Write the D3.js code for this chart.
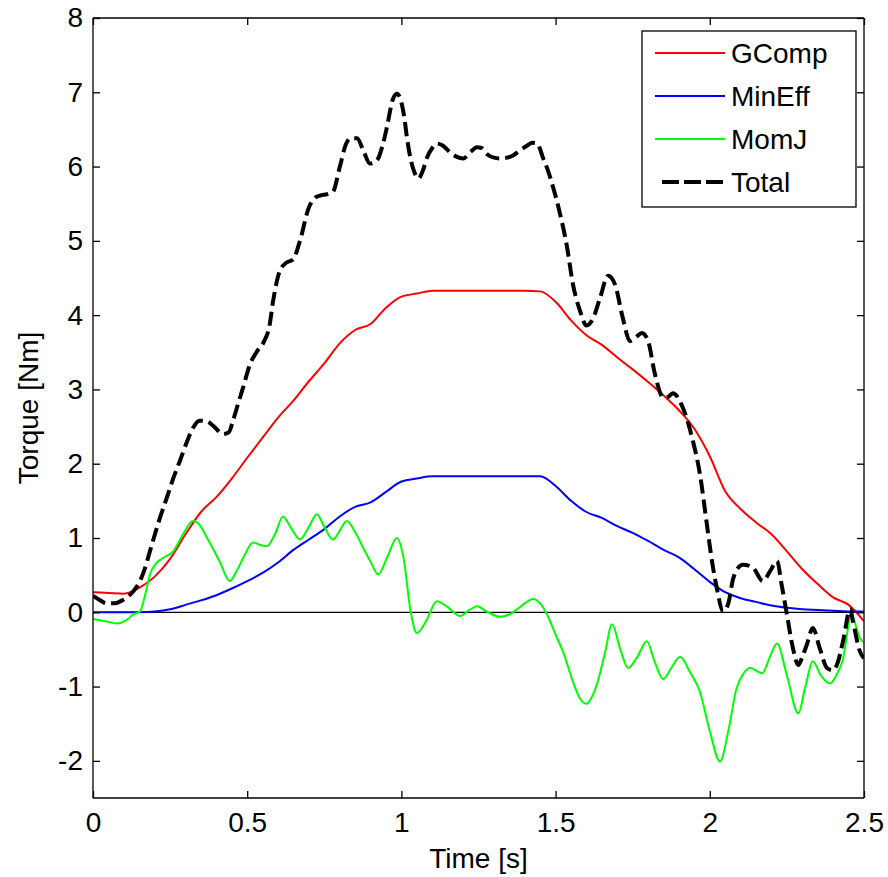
<!DOCTYPE html>
<html>
<head>
<meta charset="utf-8">
<script src="https://cdn.jsdelivr.net/npm/d3@7/dist/d3.min.js"></script>
<style>
  html, body { margin: 0; padding: 0; background: #fff; }
  text { font-family: "Liberation Sans", Arial, Helvetica, sans-serif; }
</style>
</head>
<body>
<svg id="chart" width="888" height="877"></svg>
<script>
// ---- Data ----
const seriesNames = ["GComp", "MinEff", "MomJ", "Total"];
const seriesColors = ["#ff0000", "#0000ff", "#00ff00", "#000000"];

const xTicks = [0, 0.5, 1, 1.5, 2, 2.5];
const xTickLabels = ["0", "0.5", "1", "1.5", "2", "2.5"];
const yTicks = [-2, -1, 0, 1, 2, 3, 4, 5, 6, 7, 8];
const yTickLabels = ["-2", "-1", "0", "1", "2", "3", "4", "5", "6", "7", "8"];

const tGComp = [0,0.05,0.1,0.15,0.2,0.25,0.3,0.35,0.4,0.45,0.5,0.55,0.6,0.65,0.7,0.75,0.8,0.85,0.9,0.95,1.0,1.05,1.1,1.2,1.3,1.4,1.45,1.5,1.55,1.6,1.65,1.7,1.75,1.8,1.85,1.9,1.95,2.0,2.05,2.1,2.15,2.2,2.25,2.3,2.35,2.4,2.45,2.5];
const gcomp = [0.27,0.26,0.25,0.33,0.48,0.72,1.05,1.35,1.55,1.80,2.08,2.35,2.62,2.85,3.11,3.35,3.62,3.80,3.88,4.10,4.25,4.29,4.33,4.33,4.33,4.33,4.32,4.18,3.93,3.73,3.60,3.43,3.27,3.10,2.92,2.72,2.47,2.10,1.63,1.39,1.21,1.05,0.82,0.58,0.38,0.20,0.10,-0.12];

const tMinEff = [0,0.05,0.1,0.15,0.2,0.25,0.3,0.35,0.4,0.45,0.5,0.55,0.6,0.65,0.7,0.75,0.8,0.85,0.9,0.95,1.0,1.05,1.1,1.2,1.3,1.4,1.45,1.5,1.55,1.6,1.65,1.7,1.75,1.8,1.85,1.9,1.95,2.0,2.05,2.1,2.15,2.2,2.25,2.3,2.35,2.4,2.45,2.5];
const mineff = [0,0,0,0,0.01,0.04,0.10,0.16,0.23,0.32,0.42,0.53,0.67,0.84,0.98,1.12,1.29,1.42,1.48,1.62,1.76,1.80,1.83,1.83,1.83,1.83,1.83,1.70,1.50,1.35,1.27,1.16,1.07,0.96,0.84,0.74,0.58,0.41,0.27,0.19,0.14,0.09,0.06,0.04,0.03,0.02,0.01,0.01];

const tMomJ = [0,0.04,0.078,0.11,0.13,0.152,0.17,0.185,0.205,0.227,0.26,0.292,0.324,0.345,0.37,0.41,0.444,0.465,0.487,0.519,0.54,0.564,0.59,0.616,0.64,0.671,0.70,0.726,0.75,0.778,0.80,0.823,0.85,0.877,0.9,0.925,0.955,0.985,1.007,1.03,1.05,1.08,1.115,1.15,1.19,1.22,1.245,1.28,1.32,1.35,1.375,1.40,1.427,1.45,1.47,1.50,1.524,1.556,1.579,1.6,1.62,1.634,1.66,1.683,1.71,1.735,1.765,1.796,1.82,1.849,1.875,1.904,1.935,1.968,2.0,2.033,2.06,2.087,2.11,2.13,2.17,2.195,2.218,2.25,2.287,2.31,2.334,2.36,2.39,2.41,2.43,2.46,2.475,2.487,2.5];
const momj = [-0.09,-0.12,-0.15,-0.10,-0.03,0.01,0.25,0.51,0.66,0.73,0.82,1.05,1.23,1.18,1.0,0.69,0.42,0.55,0.73,0.94,0.91,0.89,1.05,1.29,1.15,0.98,1.15,1.32,1.15,0.98,1.10,1.23,1.08,0.86,0.68,0.51,0.75,1.0,0.73,0.01,-0.28,-0.12,0.15,0.07,-0.05,0.03,0.08,0.0,-0.06,-0.03,0.04,0.12,0.18,0.12,-0.01,-0.3,-0.53,-0.93,-1.16,-1.23,-1.12,-0.97,-0.55,-0.16,-0.5,-0.75,-0.6,-0.39,-0.65,-0.9,-0.75,-0.6,-0.8,-1.07,-1.6,-2.01,-1.6,-1.02,-0.82,-0.75,-0.82,-0.6,-0.42,-0.85,-1.36,-1.0,-0.66,-0.85,-0.96,-0.85,-0.66,-0.03,-0.2,-0.35,-0.4];

const tTotal = [0,0.02,0.045,0.07,0.09,0.11,0.13,0.15,0.165,0.19,0.217,0.24,0.26,0.282,0.305,0.324,0.345,0.37,0.39,0.422,0.44,0.454,0.47,0.487,0.51,0.53,0.555,0.572,0.584,0.606,0.625,0.649,0.671,0.70,0.72,0.736,0.76,0.778,0.80,0.82,0.835,0.856,0.878,0.898,0.92,0.94,0.953,0.972,0.985,0.995,1.008,1.018,1.03,1.04,1.055,1.07,1.083,1.1,1.115,1.135,1.158,1.18,1.2,1.225,1.245,1.26,1.277,1.3,1.32,1.342,1.362,1.385,1.407,1.425,1.44,1.459,1.475,1.492,1.514,1.537,1.556,1.579,1.6,1.621,1.644,1.67,1.692,1.718,1.741,1.76,1.78,1.80,1.822,1.849,1.865,1.88,1.913,1.945,1.968,1.99,2.007,2.023,2.043,2.06,2.075,2.092,2.108,2.14,2.172,2.195,2.218,2.233,2.25,2.27,2.287,2.3,2.315,2.334,2.357,2.38,2.398,2.412,2.432,2.455,2.464,2.487,2.5];
const total = [0.22,0.17,0.12,0.12,0.15,0.2,0.28,0.4,0.55,0.9,1.27,1.55,1.8,2.04,2.3,2.48,2.58,2.57,2.51,2.4,2.42,2.58,2.8,3.03,3.35,3.5,3.65,3.85,4.19,4.6,4.7,4.75,5.0,5.45,5.58,5.61,5.63,5.66,5.99,6.3,6.38,6.38,6.2,6.04,6.08,6.3,6.53,6.9,6.98,6.93,6.7,6.39,6.1,5.95,5.84,5.95,6.12,6.25,6.31,6.28,6.19,6.13,6.11,6.2,6.26,6.25,6.17,6.12,6.11,6.12,6.15,6.22,6.28,6.32,6.31,6.12,5.95,5.72,5.37,4.92,4.42,4.06,3.86,3.95,4.23,4.53,4.42,3.96,3.65,3.7,3.76,3.65,3.21,2.89,2.9,2.95,2.75,2.31,1.86,1.2,0.69,0.32,0.01,0.12,0.44,0.6,0.64,0.6,0.42,0.55,0.69,0.37,-0.03,-0.49,-0.71,-0.6,-0.43,-0.21,-0.49,-0.75,-0.78,-0.71,-0.39,0.04,-0.12,-0.53,-0.62];

// ---- Layout ----
const svg = d3.select("#chart");
const pLeft = 93, pRight = 864, pTop = 18, pBottom = 798;
const x = d3.scaleLinear().domain([0, 2.5]).range([pLeft, pRight]);
const y = d3.scaleLinear().domain([-2.5, 8]).range([pBottom, pTop]);

svg.append("rect").attr("width", 888).attr("height", 877).attr("fill", "#fff");

svg.append("defs").append("clipPath").attr("id", "clip")
  .append("rect").attr("x", pLeft).attr("y", pTop)
  .attr("width", pRight - pLeft).attr("height", pBottom - pTop);

// zero line
svg.append("line")
  .attr("x1", x(0)).attr("x2", x(2.5))
  .attr("y1", y(0)).attr("y2", y(0))
  .attr("stroke", "#000").attr("stroke-width", 1.2);

// series
const seriesData = [
  { t: tGComp, v: gcomp },
  { t: tMinEff, v: mineff },
  { t: tMomJ, v: momj },
  { t: tTotal, v: total }
];
const line = d3.line().x(d => x(d[0])).y(d => y(d[1])).curve(d3.curveMonotoneX);
const g = svg.append("g").attr("clip-path", "url(#clip)");
seriesData.forEach((s, i) => {
  const pts = s.t.map((t, k) => [t, s.v[k]]);
  const p = g.append("path").datum(pts)
    .attr("d", line)
    .attr("fill", "none")
    .attr("stroke", seriesColors[i])
    .attr("stroke-width", i === 3 ? 4 : 2)
    .attr("stroke-linejoin", "round");
  if (i === 3) p.attr("stroke-dasharray", "14,6");
});

// axes (MATLAB style box, inward ticks)
const tickLen = 7;
const axB = d3.axisBottom(x).tickValues(xTicks).tickSize(-tickLen).tickPadding(14)
  .tickFormat((d, i) => xTickLabels[i]);
const axT = d3.axisTop(x).tickValues(xTicks).tickSize(-tickLen).tickFormat("");
const axL = d3.axisLeft(y).tickValues(yTicks).tickSize(-tickLen).tickPadding(10)
  .tickFormat((d, i) => yTickLabels[i]);
const axR = d3.axisRight(y).tickValues(yTicks).tickSize(-tickLen).tickFormat("");

function style(sel) {
  sel.selectAll(".domain").attr("stroke", "#000").attr("stroke-width", 1.3);
  sel.selectAll(".tick line").attr("stroke", "#000").attr("stroke-width", 1.3);
  sel.selectAll(".tick text").attr("fill", "#000").style("font-size", "28px")
    .style("font-family", "'Liberation Sans', Arial, sans-serif");
}
const gb = svg.append("g").attr("transform", `translate(0,${pBottom})`).call(axB);
gb.selectAll(".domain").attr("d", `M${pLeft},0H${pRight}`);
style(gb);
gb.selectAll(".tick text").attr("dy", "0.71em");
const gt = svg.append("g").attr("transform", `translate(0,${pTop})`).call(axT);
gt.selectAll(".domain").attr("d", `M${pLeft},0H${pRight}`);
style(gt);
const gl = svg.append("g").attr("transform", `translate(${pLeft},0)`).call(axL);
gl.selectAll(".domain").attr("d", `M0,${pBottom}V${pTop}`);
style(gl);
const gr = svg.append("g").attr("transform", `translate(${pRight},0)`).call(axR);
gr.selectAll(".domain").attr("d", `M0,${pBottom}V${pTop}`);
style(gr);

// axis labels
svg.append("text").attr("x", (pLeft + pRight) / 2).attr("y", 868)
  .attr("text-anchor", "middle").style("font-size", "28px").text("Time [s]");
svg.append("text")
  .attr("transform", `translate(38,${(pTop + pBottom) / 2}) rotate(-90)`)
  .attr("text-anchor", "middle").style("font-size", "28px").text("Torque [Nm]");

// legend
const lg = svg.append("g");
lg.append("rect").attr("x", 642).attr("y", 31).attr("width", 214).attr("height", 176)
  .attr("fill", "#fff").attr("stroke", "#000").attr("stroke-width", 1.3);
const rowY = [53, 96, 139, 182];
seriesNames.forEach((name, i) => {
  const ln = lg.append("line")
    .attr("x1", i === 3 ? 662 : 655).attr("x2", i === 3 ? 723 : 725)
    .attr("y1", rowY[i]).attr("y2", rowY[i])
    .attr("stroke", seriesColors[i])
    .attr("stroke-width", i === 3 ? 4 : 2);
  if (i === 3) ln.attr("stroke-dasharray", "17,5");
  lg.append("text").attr("x", 731).attr("y", rowY[i]).attr("dy", "0.36em")
    .style("font-size", "28px").text(name);
});
</script>
</body>
</html>
